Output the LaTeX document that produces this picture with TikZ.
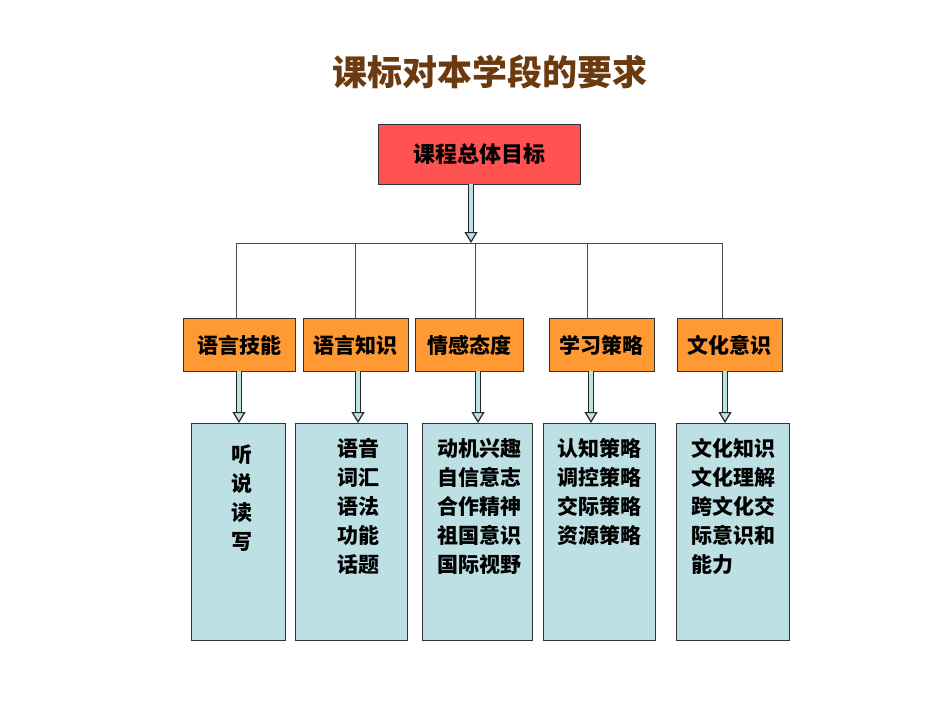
\documentclass[tikz,border=0pt]{standalone}
\usepackage{fontspec}
\newfontfamily\cjk{Noto Sans CJK SC}
\usetikzlibrary{arrows.meta}
\definecolor{titlebrown}{HTML}{6B3A0F}
\definecolor{goalred}{HTML}{FF5252}
\definecolor{partorange}{HTML}{FF9933}
\definecolor{itemblue}{HTML}{BCE0E4}
\begin{document}
\begin{tikzpicture}[x=1pt,y=-1pt,
    goal/.style={draw=black!80, fill=goalred, minimum width=202pt, minimum height=60pt, font=\cjk\bfseries\fontsize{22}{26}\selectfont},
    part/.style={draw=black!80, fill=partorange, minimum height=53pt, inner sep=0pt, font=\cjk\bfseries\fontsize{21}{24}\selectfont},
    items/.style={draw=black!80, fill=itemblue, minimum height=217pt, inner sep=0pt, font=\cjk\bfseries\fontsize{21}{29}\selectfont},
    fatarrow/.style={draw=black!85, double=itemblue, double distance=3.5pt, line width=1.2pt, -{Triangle[length=11pt,width=13pt,fill=itemblue]}},
    tree/.style={draw=black!70, line width=0.7pt}]

  \useasboundingbox (0,0) rectangle (950,713);

  \node[font=\cjk\bfseries\fontsize{35}{40}\selectfont, text=titlebrown] (title) at (490,72) {课标对本学段的要求};

  \node[goal] (goal) at (479,154) {课程总体目标};
  \coordinate (fork) at (471,243);
  \draw[fatarrow] (goal.south -| fork) -- (fork);

  % second level
  \node[part, minimum width=112pt] (skill) at (239,345) {语言技能};
  \node[part, minimum width=105pt] (know) at (355.5,345) {语言知识};
  \node[part, minimum width=108pt] (affect) at (469,345) {情感态度};
  \node[part, minimum width=105pt] (strat) at (601.5,345) {学习策略};
  \node[part, minimum width=105pt] (cult) at (729.5,345) {文化意识};

  \draw[tree] (236,243) -- (722,243);
  \foreach \n/\x in {skill/236, know/355, affect/475, strat/587, cult/722} {
    \draw[tree] (\x,243) -- (\x,318);
  }

  % third level
  \node[items, minimum width=94pt] (skillitems) at (238,531.5) {};
  \node[items, minimum width=112pt] (knowitems) at (351,531.5) {};
  \node[items, minimum width=110pt] (affectitems) at (477,531.5) {};
  \node[items, minimum width=112pt] (stratitems) at (599,531.5) {};
  \node[items, minimum width=113pt] (cultitems) at (732.5,531.5) {};

  \node[items, draw=none, fill=none, minimum height=0pt, anchor=north, align=center] at (242,444) {听\\说\\读\\写};
  \node[items, draw=none, fill=none, minimum height=0pt, anchor=north, align=center] at (358,438) {语音\\词汇\\语法\\功能\\话题};
  \node[items, draw=none, fill=none, minimum height=0pt, anchor=north, align=center] at (479,438) {动机兴趣\\自信意志\\合作精神\\祖国意识\\国际视野};
  \node[items, draw=none, fill=none, minimum height=0pt, anchor=north, align=center] at (599,438) {认知策略\\调控策略\\交际策略\\资源策略};
  \node[items, draw=none, fill=none, minimum height=0pt, anchor=north, align=left] at (733,438) {文化知识\\文化理解\\跨文化交\\际意识和\\能力};

  \foreach \a/\b/\x in {skill/skillitems/239, know/knowitems/358, affect/affectitems/478, strat/stratitems/591, cult/cultitems/725} {
    \draw[fatarrow] (\x,371) -- (\x,423);
  }
\end{tikzpicture}
\end{document}
